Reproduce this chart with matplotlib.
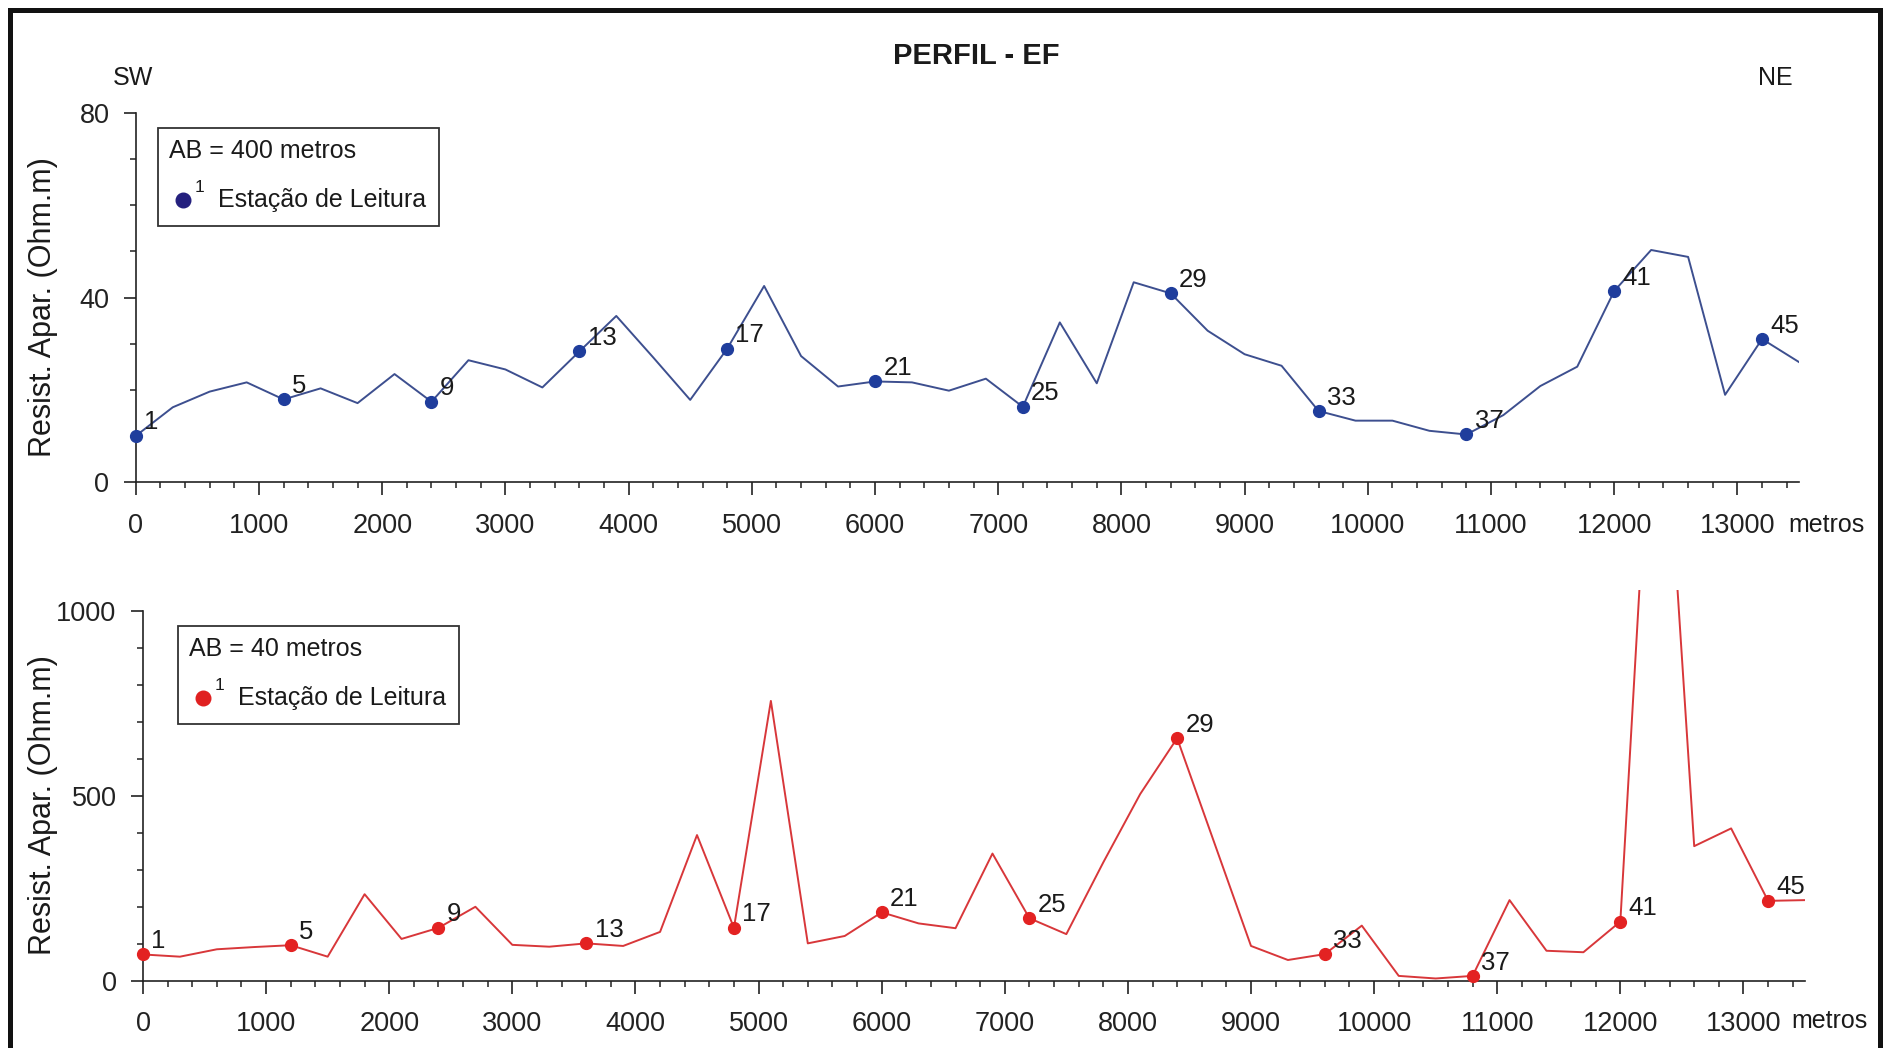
import matplotlib
matplotlib.use("Agg")
import matplotlib.pyplot as plt
from matplotlib.patches import Rectangle
from matplotlib.lines import Line2D
from matplotlib.ticker import MultipleLocator

plt.rcParams['font.family'] = ['Liberation Sans', 'DejaVu Sans']

# ---------------- data ----------------
distance_m = [0, 300, 600, 900, 1200, 1500, 1800, 2100, 2400, 2700,
              3000, 3300, 3600, 3900, 4200, 4500, 4800, 5100, 5400, 5700,
              6000, 6300, 6600, 6900, 7200, 7500, 7800, 8100, 8400, 8700,
              9000, 9300, 9600, 9900, 10200, 10500, 10800, 11100, 11400, 11700,
              12000, 12300, 12600, 12900, 13200, 13500]

rho_ab400 = [10.0, 16.2, 19.6, 21.6, 17.9, 20.3, 17.1, 23.4, 17.4, 26.4,
             24.4, 20.5, 28.3, 36.0, 27.0, 17.8, 28.9, 42.5, 27.3, 20.7,
             21.8, 21.6, 19.8, 22.4, 16.3, 34.6, 21.4, 43.3, 40.9, 32.8,
             27.7, 25.2, 15.4, 13.3, 13.3, 11.1, 10.3, 14.5, 20.8, 25.0,
             41.4, 50.3, 48.8, 18.9, 31.0, 26.0]

rho_ab40 = [71, 65, 85, 91, 96, 65, 234, 113, 143, 200,
            97, 92, 101, 94, 132, 394, 143, 757, 101, 121,
            185, 155, 142, 344, 169, 126, 320, 505, 656, 375,
            94, 56, 72, 149, 13, 6, 13, 218, 81, 77,
            160, 1900, 364, 412, 216, 218]

labeled_stations = [1, 5, 9, 13, 17, 21, 25, 29, 33, 37, 41, 45]

top_yticks = [0, 40, 80]
bot_yticks = [0, 500, 1000]
xticks = [0, 1000, 2000, 3000, 4000, 5000, 6000, 7000, 8000, 9000,
          10000, 11000, 12000, 13000]

title = "PERFIL - EF"
ylabel = "Resist. Apar. (Ohm.m)"
legend_top = "AB = 400 metros"
legend_bot = "AB = 40 metros"
legend_station = "Estação de Leitura"

# ---------------- layout ----------------
W, H = 1885, 1048
fig = plt.figure(figsize=(W / 100, H / 100), dpi=100)
fig.patch.set_facecolor('white')


def fx(px):
    return px / W


def fy(py):
    return 1 - py / H


# outer frame
fig.add_artist(Rectangle((fx(10), fy(1060)), fx(1880) - fx(10), fy(10) - fy(1060),
                         transform=fig.transFigure, fill=False, edgecolor='#111111',
                         linewidth=3.6, clip_on=False))

blue_line = '#3d4f8f'
blue_mark = '#1f3d9c'
red_line = '#d8373a'
red_mark = '#e32222'

TICK_FS = 19.5
LBL_FS = 18.5


def style_axis(ax, ytop, yticks, yminor, spine_top):
    ax.set_xlim(0, 13500)
    ax.set_ylim(0, ytop)
    for s in ['top', 'right']:
        ax.spines[s].set_visible(False)
    ax.spines['left'].set_bounds(0, spine_top)
    ax.spines['bottom'].set_bounds(0, 13500)
    for s in ['left', 'bottom']:
        ax.spines[s].set_linewidth(1.2)
        ax.spines[s].set_color('#222222')
    ax.set_xticks(xticks)
    ax.set_xticklabels([str(t) for t in xticks])
    ax.xaxis.set_minor_locator(MultipleLocator(200))
    ax.set_yticks(yticks)
    ax.set_yticklabels([str(t) for t in yticks])
    ax.yaxis.set_minor_locator(MultipleLocator(yminor))
    ax.tick_params(axis='x', which='major', direction='out', length=9, width=1.2,
                   labelsize=TICK_FS, pad=13, colors='#222222')
    ax.tick_params(axis='x', which='minor', direction='out', length=4, width=1.1,
                   colors='#222222')
    ax.tick_params(axis='y', which='major', direction='out', length=9, width=1.2,
                   labelsize=TICK_FS, pad=10, colors='#222222')
    ax.tick_params(axis='y', which='minor', direction='out', length=4, width=1.1,
                   colors='#222222')
    ax.patch.set_alpha(0)


def draw_profile(ax, values, lc, mc):
    ax.plot(distance_m, values, color=lc, linewidth=1.4, zorder=2)
    for st in labeled_stations:
        xv = distance_m[st - 1]
        yv = values[st - 1]
        ax.plot([xv], [yv], 'o', color=mc, markersize=8.5, zorder=3, clip_on=False)
        ax.annotate(str(st), (xv, yv), xytext=(6, 1), textcoords='offset points',
                    ha='left', va='bottom', fontsize=LBL_FS, color='#1a1a1a')


# top axis
ax1 = fig.add_axes([fx(135.8), fy(482), fx(1799) - fx(135.8), fy(113) - fy(482)])
style_axis(ax1, 80, top_yticks, 10, 80)
draw_profile(ax1, rho_ab400, blue_line, blue_mark)

# bottom axis
ax2 = fig.add_axes([fx(143), fy(980.7), fx(1805) - fx(143), fy(590) - fy(980.7)])
style_axis(ax2, 1057, bot_yticks, 100, 1000)
draw_profile(ax2, rho_ab40, red_line, red_mark)

# texts
fig.text(fx(976), fy(56), title, ha='center', va='center', fontsize=21,
         fontweight='bold', color='#1a1a1a')
fig.text(fx(133), fy(78), "SW", ha='center', va='center', fontsize=18, color='#1a1a1a')
fig.text(fx(1775), fy(78), "NE", ha='center', va='center', fontsize=18, color='#1a1a1a')
fig.text(fx(43), fy(307), ylabel, rotation=90, ha='center', va='center',
         fontsize=22, color='#1a1a1a')
fig.text(fx(43), fy(805), ylabel, rotation=90, ha='center', va='center',
         fontsize=22, color='#1a1a1a')
fig.text(fx(1788), fy(525), "metros", ha='left', va='center', fontsize=18, color='#1a1a1a')
fig.text(fx(1791), fy(1021), "metros", ha='left', va='center', fontsize=18, color='#1a1a1a')


def draw_legend(x0, y0, label, dot_color):
    # box spans x0..x0+281, y0..y0+98 (pixels)
    fig.add_artist(Rectangle((fx(x0), fy(y0 + 98)), fx(x0 + 281) - fx(x0),
                             fy(y0) - fy(y0 + 98), transform=fig.transFigure,
                             fill=True, facecolor='white', edgecolor='#333333',
                             linewidth=1.3, zorder=5))
    fig.text(fx(x0 + 11), fy(y0 + 23), label, ha='left', va='center',
             fontsize=18, color='#1a1a1a', zorder=6)
    fig.add_artist(Line2D([fx(x0 + 25)], [fy(y0 + 72)], marker='o', markersize=10.5,
                          color=dot_color, linestyle='none',
                          transform=fig.transFigure, zorder=6))
    fig.text(fx(x0 + 37), fy(y0 + 60), "1", ha='left', va='center',
             fontsize=12.5, color='#1a1a1a', zorder=6)
    fig.text(fx(x0 + 60), fy(y0 + 72), legend_station, ha='left', va='center',
             fontsize=18, color='#1a1a1a', zorder=6)


draw_legend(158, 128, legend_top, '#24207e')
draw_legend(178, 626, legend_bot, '#e02020')

fig.savefig("out.png", dpi=100, facecolor='white')
